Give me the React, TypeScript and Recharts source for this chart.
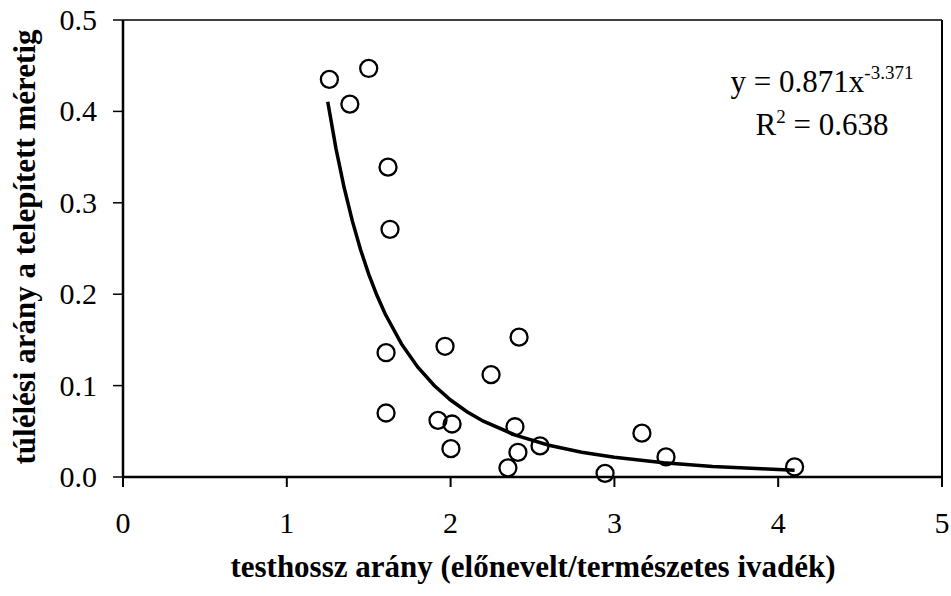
import { ScatterChart, Scatter, XAxis, YAxis, ReferenceLine, Customized } from 'recharts'

// measured points (length ratio, survival)
const ratio = [1.26, 1.385, 1.5, 1.618, 1.63, 1.606, 1.606, 1.966, 1.923, 2.009, 2.002, 2.247, 2.418, 2.393, 2.411, 2.35, 2.546, 2.943, 3.168, 3.315, 4.1]
const survival = [0.435, 0.408, 0.447, 0.339, 0.271, 0.136, 0.07, 0.143, 0.062, 0.058, 0.031, 0.112, 0.153, 0.055, 0.027, 0.01, 0.034, 0.004, 0.048, 0.022, 0.011]

// power trend line
const trendX = [1.25, 1.3, 1.35, 1.4, 1.45, 1.5, 1.55, 1.6, 1.7, 1.8, 1.9, 2.0, 2.1, 2.2, 2.4, 2.6, 2.8, 3.0, 3.3, 3.6, 3.9, 4.1]
const trendY = [0.4105, 0.3596, 0.3167, 0.2802, 0.2489, 0.222, 0.1988, 0.1786, 0.1456, 0.1201, 0.1001, 0.0842, 0.0714, 0.0611, 0.0455, 0.0348, 0.0271, 0.0215, 0.0156, 0.0116, 0.0089, 0.0075]

const xTicks = [0, 1, 2, 3, 4, 5]
const yTicks = [0, 0.1, 0.2, 0.3, 0.4, 0.5]

const points = ratio.map((x, i) => ({ x, y: survival[i] }))
const trend = trendX.map((x, i) => ({ x, y: trendY[i] }))

const font = '"Liberation Serif", "Times New Roman", serif'

const Ring = (p: any) => <circle cx={p.cx} cy={p.cy} r={8.5} fill="none" stroke="#000" strokeWidth={2.3} />

const XTick = (p: any) => (
  <text x={p.x} y={p.y} dy={21} textAnchor="middle" fontSize={30} fontFamily={font} fill="#000">
    {p.payload.value}
  </text>
)

const YTick = (p: any) => (
  <text x={p.x} y={p.y} dy={10} textAnchor="end" fontSize={30} fontFamily={font} fill="#000">
    {p.payload.value.toFixed(1)}
  </text>
)

const Texts = () => (
  <g fontFamily={font} fill="#000">
    <text x={822} y={92} fontSize={31} textAnchor="middle">
      y = 0.871x<tspan fontSize={19} dy={-13}>-3.371</tspan>
    </text>
    <text x={822} y={135} fontSize={31} textAnchor="middle">
      R<tspan fontSize={19} dy={-12}>2</tspan><tspan dy={12}> = 0.638</tspan>
    </text>
    <text x={533} y={577} fontSize={31} fontWeight="bold" textAnchor="middle">
      testhossz arány (előnevelt/természetes ivadék)
    </text>
    <text x={35} y={247} fontSize={31} fontWeight="bold" textAnchor="middle" transform="rotate(-90 35 247)">
      túlélési arány a telepített méretig
    </text>
  </g>
)

export default function App() {
  return (
    <div style={{ position: 'absolute', left: 0, top: 0, background: '#fff' }}>
      <ScatterChart width={951} height={596} margin={{ top: 20, right: 9, bottom: 0, left: 0 }}>
        <XAxis type="number" dataKey="x" domain={[0, 5]} ticks={xTicks} interval={0}
          axisLine={{ stroke: '#000', strokeWidth: 2.5 }} tickLine={{ stroke: '#000', strokeWidth: 2 }}
          tickSize={10} tickMargin={25} tick={XTick} height={119} />
        <YAxis type="number" dataKey="y" domain={[0, 0.5]} ticks={yTicks} interval={0}
          axisLine={{ stroke: '#000', strokeWidth: 2.5 }} tickLine={{ stroke: '#000', strokeWidth: 1.5 }}
          tickSize={10} tickMargin={16} tick={YTick} width={123} />
        <ReferenceLine y={0.5} stroke="#000" strokeWidth={1.5} />
        <ReferenceLine x={5} stroke="#000" strokeWidth={2} />
        <Scatter data={trend} line={{ stroke: '#000', strokeWidth: 3.5 }} lineType="joint"
          shape={() => null} isAnimationActive={false} />
        <Scatter data={points} shape={Ring} isAnimationActive={false} />
        <Customized component={Texts} />
      </ScatterChart>
    </div>
  )
}
